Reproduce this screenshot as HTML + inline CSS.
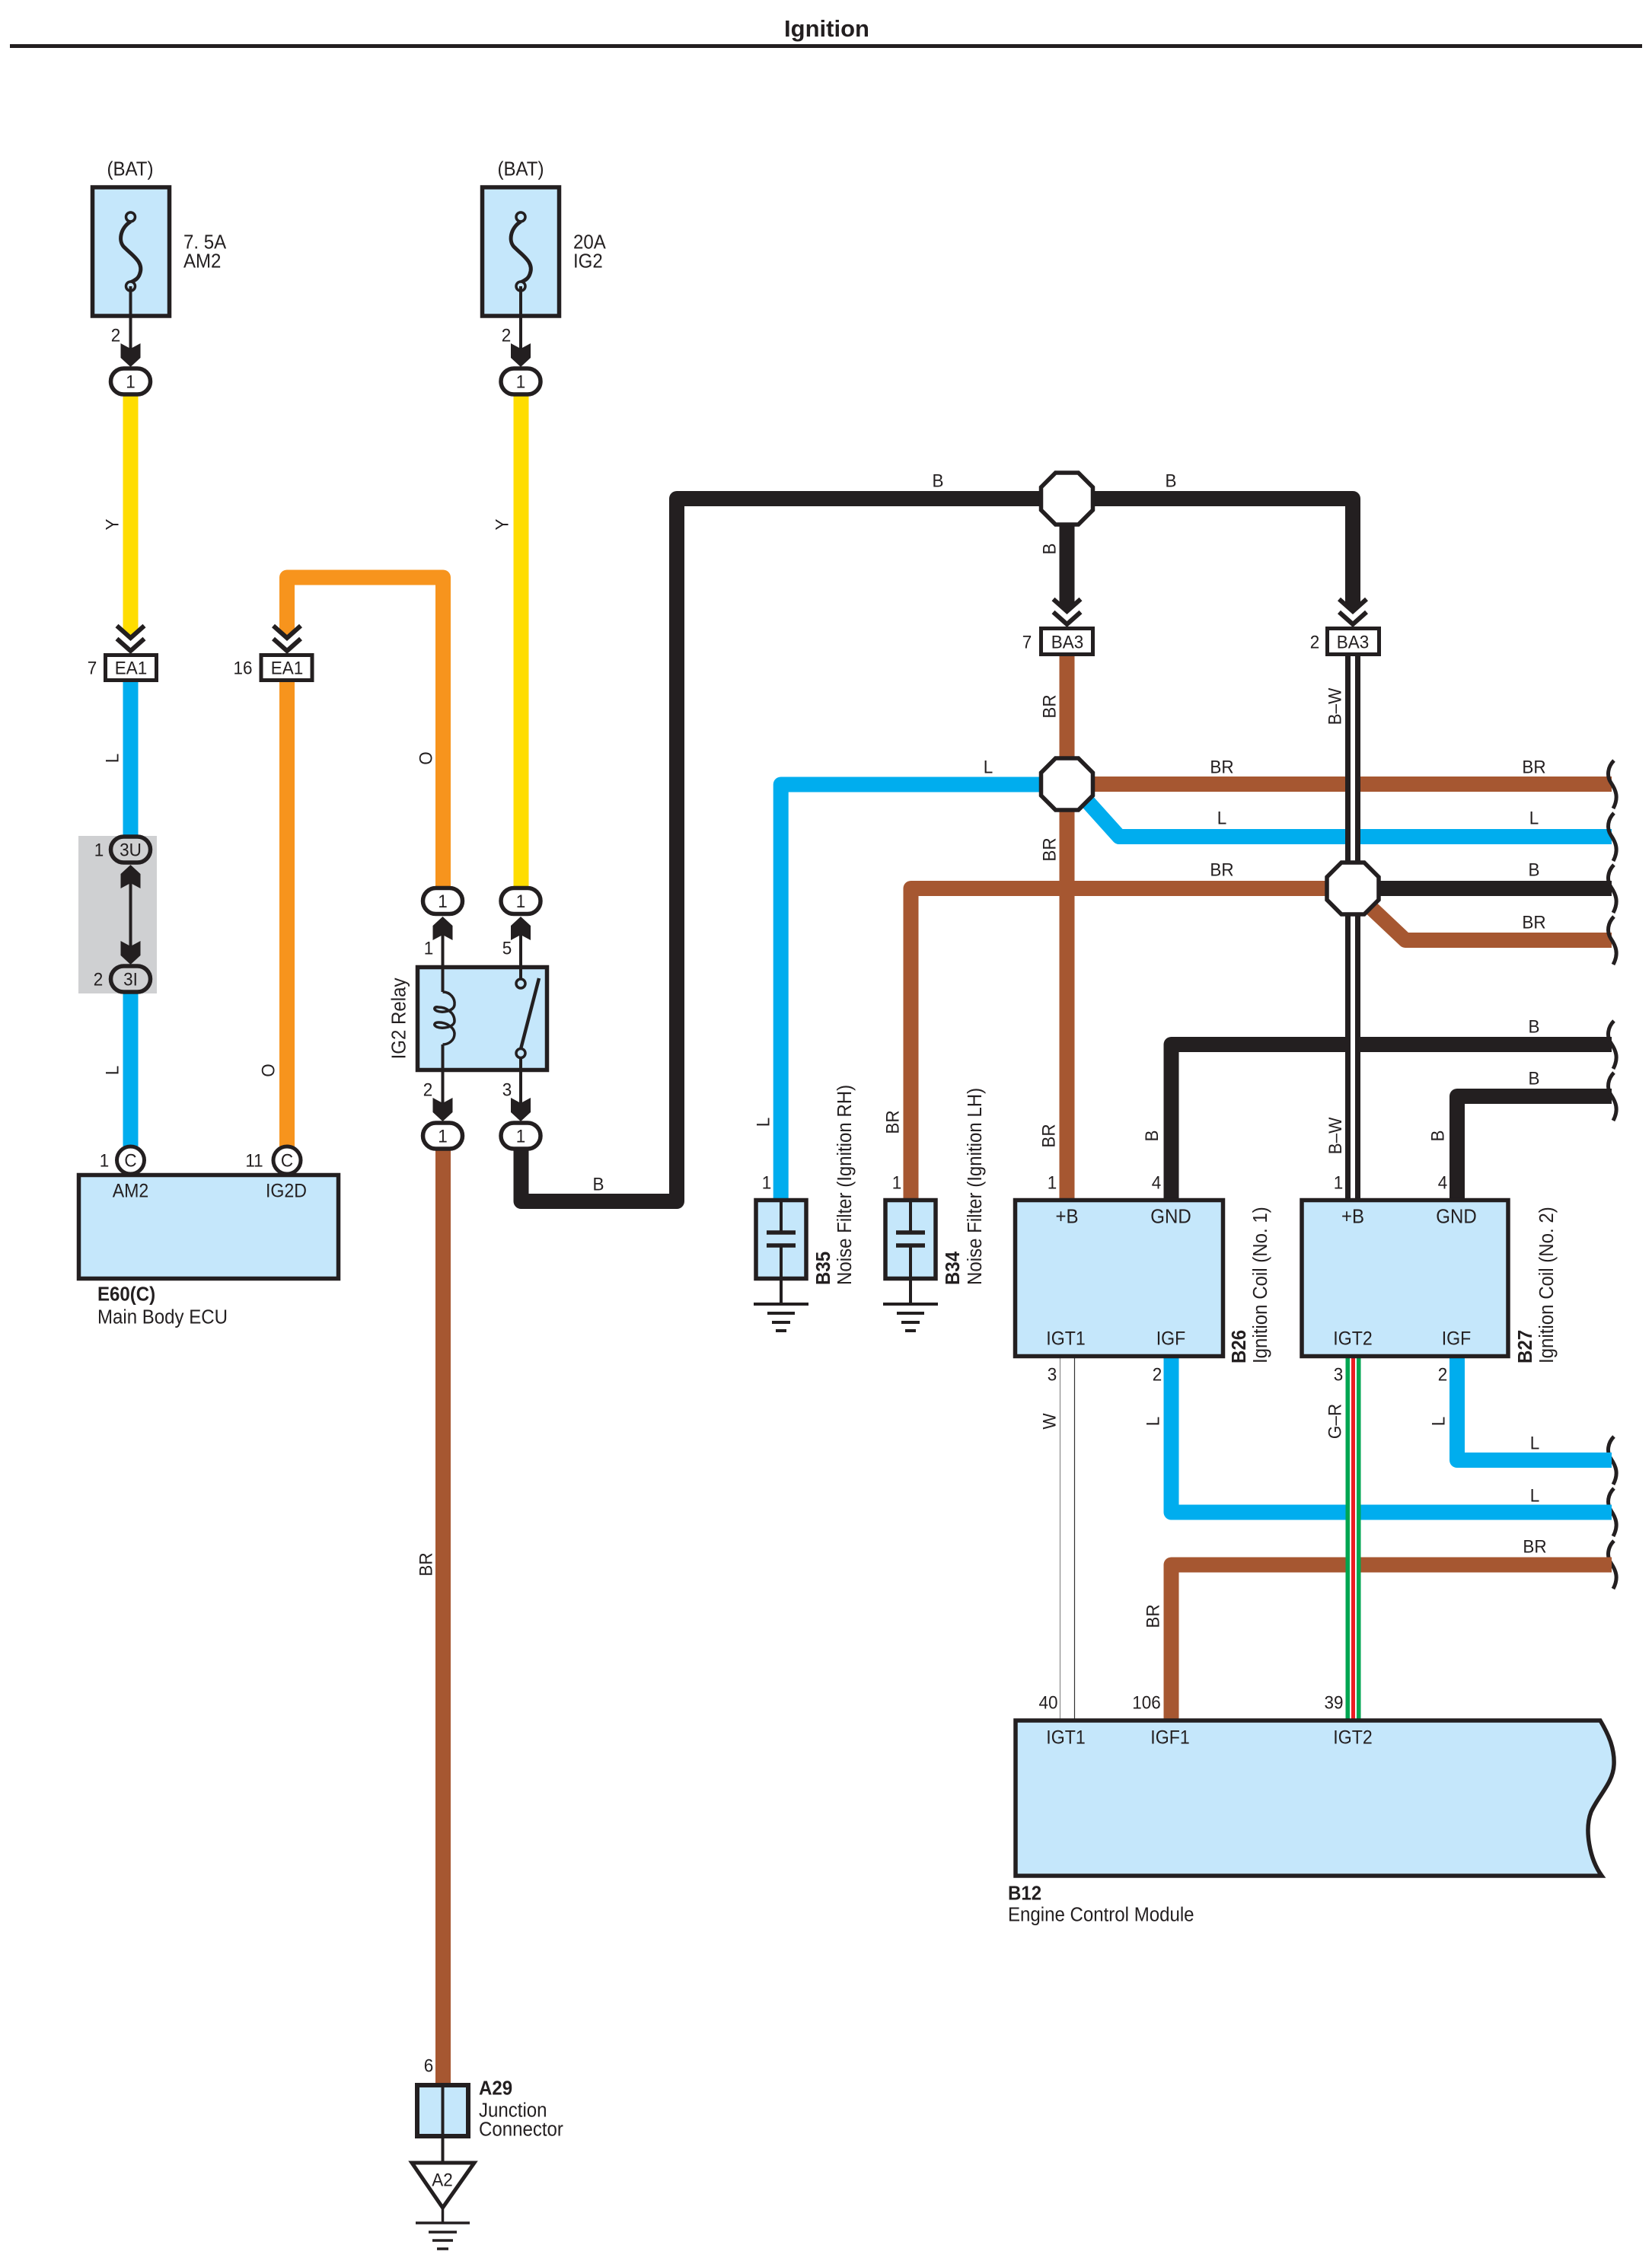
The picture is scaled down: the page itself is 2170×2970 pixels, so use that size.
<!DOCTYPE html>
<html><head><meta charset="utf-8"><title>Ignition</title>
<style>
html,body{margin:0;padding:0;background:#fff}
svg{display:block}
text{font-family:"Liberation Sans",sans-serif;font-size:24.3px;fill:#231F20;text-anchor:middle;transform-box:fill-box;transform-origin:center;transform:scaleX(.925) translateY(.7px)}
.s{text-anchor:start;font-size:26px;transform-origin:left center}
.b{font-weight:bold;text-anchor:start;font-size:26px;transform-origin:left center}
.n{font-size:26px}
.p{font-size:25px}
.w{fill:none;stroke-width:20;stroke-linejoin:round}
.k{stroke:#231F20}.br{stroke:#A65731}.l{stroke:#00ADEE}.o{stroke:#F7941D}.y{stroke:#FFDD00}
.box{fill:#C5E7FB;stroke:#231F20;stroke-width:5.5;stroke-linejoin:miter}
.t{stroke:#231F20;stroke-width:4;fill:none}
.g{stroke:#231F20;stroke-width:3.5;fill:none}
</style></head>
<body>
<svg xmlns="http://www.w3.org/2000/svg" width="2170" height="2970" viewBox="0 0 2170 2970">
<defs>
<g id="oval"><rect x="-26" y="-17" width="52" height="34" rx="17" fill="#fff" stroke="#231F20" stroke-width="5.5"/></g>
<g id="ovalg"><rect x="-26" y="-17" width="52" height="34" rx="17" fill="#CFD0D2" stroke="#231F20" stroke-width="5.5"/></g>
<polygon id="ad" fill="#231F20" points="-13,-31 0,-24 13,-31 13,-12 0,0 -13,-12"/>
<polygon id="au" fill="#231F20" points="-13,31 0,24 13,31 13,12 0,0 -13,12"/>
<g id="chev"><polygon fill="#fff" points="-18,-36 0,-20 18,-36 18,0 -18,0"/><path d="M-18,-36 L0,-20 L18,-36 M-18,-19 L0,-3 L18,-19" fill="none" stroke="#231F20" stroke-width="6"/></g>
<polygon id="oct" fill="#fff" stroke="#231F20" stroke-width="5.5" stroke-linejoin="miter" points="-15,-34 15,-34 34,-15 34,15 15,34 -15,34 -34,15 -34,-15"/>
<path id="sq" d="M1,0 C-7,8 -9,20 -3,29 C3,38 8,48 0,63" fill="none" stroke="#231F20" stroke-width="5"/>
<g id="gnd" fill="none" stroke="#231F20" stroke-width="4"><path d="M-36,0H36"/><path d="M-18,12H18"/><path d="M-12,24H12"/><path d="M-7,35H7"/></g>
<g id="fuse"><path d="M0,291 C-14,300 -17,318 -7,326 C3,336 18,345 12,360 C10,366 6,368 0,371" fill="none" stroke="#231F20" stroke-width="5"/><circle cx="0" cy="285" r="6" fill="#C5E7FB" stroke="#231F20" stroke-width="3.5"/><circle cx="0" cy="376" r="6" fill="#C5E7FB" stroke="#231F20" stroke-width="3.5"/></g>
</defs>

<!-- Title -->
<text x="1086" y="48" style="font-size:31px;font-weight:bold;transform:none">Ignition</text>
<rect x="13" y="58" width="2144" height="5" fill="#231F20"/>

<!-- Left column: fuses -->
<rect class="box" x="121.5" y="246" width="101" height="169"/>
<use href="#fuse" x="171.5"/>
<rect class="box" x="633.5" y="246" width="101" height="169"/>
<use href="#fuse" x="684"/>
<text x="171" y="230" class="n">(BAT)</text>
<text x="684" y="230" class="n">(BAT)</text>
<text x="241" y="326" class="s">7. 5A</text>
<text x="241" y="351" class="s">AM2</text>
<text x="753" y="326" class="s">20A</text>
<text x="753" y="351" class="s">IG2</text>
<path class="t" d="M171.5,376V470M684,376V470"/>
<text x="152" y="448">2</text>
<text x="665" y="448">2</text>
<use href="#ad" x="171.5" y="482"/>
<use href="#ad" x="684" y="482"/>

<!-- Yellow wires -->
<path class="w y" d="M171.5,515V840"/>
<path class="w y" d="M684.5,515V1170"/>
<use href="#oval" x="171.5" y="501"/><text x="171.5" y="509">1</text>
<use href="#oval" x="684" y="501"/><text x="684" y="509">1</text>
<g transform="translate(147 689) rotate(-90)"><text y="8">Y</text></g>
<g transform="translate(659 689) rotate(-90)"><text y="8">Y</text></g>

<!-- Orange loop -->
<path class="w o" d="M377,840V758.5H582V1170"/>
<path class="w o" d="M377,890V1510"/>
<g transform="translate(559 996) rotate(-90)"><text y="8">O</text></g>
<g transform="translate(352 1406) rotate(-90)"><text y="8">O</text></g>

<!-- Blue left -->
<path class="w l" d="M171.5,890V1510"/>
<g transform="translate(147 996) rotate(-90)"><text y="8">L</text></g>
<g transform="translate(147 1406) rotate(-90)"><text y="8">L</text></g>

<!-- EA1 -->
<use href="#chev" x="171.5" y="858"/>
<use href="#chev" x="377" y="858"/>
<rect x="138.5" y="860.5" width="67" height="33" fill="#fff" stroke="#231F20" stroke-width="5"/>
<rect x="343" y="860.5" width="67" height="33" fill="#fff" stroke="#231F20" stroke-width="5"/>
<text x="172" y="885">EA1</text>
<text x="377" y="885">EA1</text>
<text x="121" y="885">7</text>
<text x="319" y="885">16</text>

<!-- Grey 3U/3I -->
<rect x="103" y="1098" width="103" height="207" fill="#CFD0D2"/>
<path class="t" d="M171.5,1145V1258"/>
<use href="#au" x="171.5" y="1136"/>
<use href="#ad" x="171.5" y="1267"/>
<use href="#ovalg" x="171.5" y="1116"/><text x="171.5" y="1124">3U</text>
<use href="#ovalg" x="171.5" y="1286"/><text x="171.5" y="1294">3I</text>
<text x="130" y="1124">1</text>
<text x="129" y="1294">2</text>

<!-- ECU -->
<rect class="box" x="103.5" y="1543.5" width="341" height="136"/>
<circle cx="171.5" cy="1524" r="18" fill="#fff" stroke="#231F20" stroke-width="5"/>
<circle cx="377" cy="1524" r="18" fill="#fff" stroke="#231F20" stroke-width="5"/>
<text x="171.5" y="1532">C</text>
<text x="377" y="1532">C</text>
<text x="137" y="1532">1</text>
<text x="334" y="1532">11</text>
<text x="171.5" y="1572" class="p">AM2</text>
<text x="376" y="1572" class="p">IG2D</text>
<text x="128" y="1708" class="b">E60(C)</text>
<text x="128" y="1738" class="s">Main Body ECU</text>

<!-- Relay -->
<use href="#oval" x="581.5" y="1183.5"/><text x="581.5" y="1191.5">1</text>
<use href="#oval" x="684" y="1183.5"/><text x="684" y="1191.5">1</text>
<use href="#au" x="581.5" y="1204"/>
<use href="#au" x="684" y="1204"/>
<text x="563" y="1253">1</text>
<text x="666" y="1253">5</text>
<rect class="box" x="548.5" y="1270.5" width="170" height="135"/>
<path class="t" d="M581.5,1220V1303M581.5,1372V1460M684,1220V1286M684,1390V1460"/>
<path d="M581.5,1303 C592,1303 598,1312 597,1320 C596,1328 582,1331 574,1328 C569,1326 570,1322 576,1323 C586,1323 597,1330 597,1341 C597,1349 582,1352 574,1349 C569,1347 570,1343 576,1343 C587,1343 597,1350 597,1358 C597,1366 590,1372 581.5,1372" fill="none" stroke="#231F20" stroke-width="3.5"/>
<circle cx="684" cy="1292" r="6" fill="#C5E7FB" stroke="#231F20" stroke-width="3.5"/>
<circle cx="684" cy="1383.5" r="6" fill="#C5E7FB" stroke="#231F20" stroke-width="3.5"/>
<path d="M684,1378L708,1285" stroke="#231F20" stroke-width="4.5" fill="none"/>
<g transform="translate(524 1338) rotate(-90)"><text y="8" class="n">IG2 Relay</text></g>
<text x="562" y="1439">2</text>
<text x="666" y="1439">3</text>
<use href="#ad" x="581.5" y="1473"/>
<use href="#ad" x="684" y="1473"/>

<!-- Brown to junction -->
<path class="w br" d="M582,1505V2740"/>
<use href="#oval" x="581.5" y="1492"/><text x="581.5" y="1500">1</text>
<g transform="translate(559 2055) rotate(-90)"><text y="8">BR</text></g>
<text x="563" y="2721">6</text>
<rect x="548" y="2739" width="67" height="67" fill="#C5E7FB" stroke="#231F20" stroke-width="6"/>
<path d="M581.5,2736V2840" stroke="#231F20" stroke-width="4" fill="none"/>
<text x="629" y="2751" class="b">A29</text>
<text x="629" y="2780" class="s">Junction</text>
<text x="629" y="2805" class="s">Connector</text>
<polygon points="541,2841 623,2841 581.5,2900" fill="#fff" stroke="#231F20" stroke-width="5"/>
<text x="581" y="2871">A2</text>
<path d="M581.5,2900V2920M546,2920H617M563,2932H600M568,2943H595M574,2954H589" stroke="#231F20" stroke-width="3.5" fill="none"/>

<!-- Black main -->
<path class="w k" d="M684.5,1505V1578H889V655H1401V655"/>
<path class="w k" d="M1401,655H1777V805"/>
<path class="w k" d="M1401.5,680V805"/>
<use href="#oval" x="684" y="1492"/><text x="684" y="1500">1</text>
<text x="786" y="1563">B</text>
<text x="1232" y="639">B</text>
<text x="1538" y="639">B</text>
<g transform="translate(1378 721) rotate(-90)"><text y="8">B</text></g>

<!-- Horizontal wires -->
<path class="w l" d="M1401,1030.5H1025.7V1574"/>
<path class="w br" d="M1401.5,1030H2117"/>
<path class="w l" d="M1425,1049L1470,1099H2117"/>
<path class="w br" d="M1401.5,860V1574"/>
<path class="w br" d="M1777,1167H1196.5V1574"/>
<path class="w k" d="M1777,1167H2117"/>
<path class="w br" d="M1793,1185L1846,1235H2117"/>
<path class="w k" d="M2117,1372H1538.5V1574"/>
<path class="w k" d="M2117,1440H1914V1574"/>

<!-- B-W wire -->
<path d="M1777,860V1574" stroke="#231F20" stroke-width="20" fill="none"/>
<path d="M1777,860V1574" stroke="#fff" stroke-width="6" fill="none"/>

<!-- Octagons -->
<use href="#oct" x="1401.5" y="655"/>
<use href="#oct" x="1401.5" y="1030"/>
<use href="#oct" x="1777" y="1167"/>

<!-- BA3 -->
<use href="#chev" x="1401.5" y="823"/>
<use href="#chev" x="1777" y="823"/>
<rect x="1367.5" y="825.5" width="68" height="34" fill="#fff" stroke="#231F20" stroke-width="5"/>
<rect x="1743.5" y="825.5" width="68" height="34" fill="#fff" stroke="#231F20" stroke-width="5"/>
<text x="1402" y="851">BA3</text>
<text x="1777" y="851">BA3</text>
<text x="1349" y="851">7</text>
<text x="1727" y="851">2</text>

<!-- Labels on wires -->
<g transform="translate(1378 928) rotate(-90)"><text y="8">BR</text></g>
<g transform="translate(1378 1116) rotate(-90)"><text y="8">BR</text></g>
<g transform="translate(1753 928) rotate(-90)"><text y="8">B–W</text></g>
<text x="1298" y="1015">L</text>
<text x="1605" y="1015">BR</text>
<text x="2015" y="1015">BR</text>
<text x="1605" y="1082">L</text>
<text x="2015" y="1082">L</text>
<text x="1605" y="1150">BR</text>
<text x="2015" y="1150">B</text>
<text x="2015" y="1219">BR</text>
<text x="2015" y="1356">B</text>
<text x="2015" y="1424">B</text>

<!-- Squiggles -->
<use href="#sq" x="2119" y="999"/>
<use href="#sq" x="2119" y="1068"/>
<use href="#sq" x="2119" y="1136"/>
<use href="#sq" x="2119" y="1204"/>
<use href="#sq" x="2119" y="1341"/>
<use href="#sq" x="2119" y="1409"/>
<use href="#sq" x="2119" y="1887"/>
<use href="#sq" x="2119" y="1955"/>
<use href="#sq" x="2119" y="2024"/>

<!-- Noise filters -->
<rect class="box" x="993" y="1576.5" width="66" height="103"/>
<rect class="box" x="1163" y="1576.5" width="66" height="103"/>
<path class="t" d="M1026,1574V1619M1026,1636V1713M1196,1574V1619M1196,1636V1713"/>
<path d="M1007,1619H1045M1007,1636H1045M1177,1619H1215M1177,1636H1215" stroke="#231F20" stroke-width="5.5" fill="none"/>
<use href="#gnd" x="1026" y="1713"/>
<use href="#gnd" x="1196" y="1713"/>
<g transform="translate(1002 1474) rotate(-90)"><text y="8">L</text></g>
<g transform="translate(1172 1474) rotate(-90)"><text y="8">BR</text></g>
<text x="1007" y="1561">1</text>
<text x="1178" y="1561">1</text>
<g transform="translate(1081 1688) rotate(-90)"><text y="8.5" class="b">B35</text></g>
<g transform="translate(1109 1688) rotate(-90)"><text y="8.5" class="s">Noise Filter (Ignition RH)</text></g>
<g transform="translate(1251 1688) rotate(-90)"><text y="8.5" class="b">B34</text></g>
<g transform="translate(1280 1688) rotate(-90)"><text y="8.5" class="s">Noise Filter (Ignition LH)</text></g>

<!-- Lower wires -->
<path class="w l" d="M1538.5,1784V1986.5H2117"/>
<path class="w l" d="M1914,1784V1918H2117"/>
<path class="w br" d="M1538.5,2258V2055.5H2117"/>
<!-- W wire -->
<path d="M1392.5,1784V2258" stroke="#8a8a8a" stroke-width="1.2" fill="none"/>
<path d="M1411.5,1784V2258" stroke="#333" stroke-width="1.2" fill="none"/>
<!-- G-R wire -->
<rect x="1767.5" y="1784" width="20" height="474" fill="#00A651"/>
<rect x="1773" y="1784" width="9" height="474" fill="#fff"/>
<rect x="1775" y="1784" width="5" height="474" fill="#ED1C24"/>

<!-- Coils -->
<rect class="box" x="1333.5" y="1576.5" width="273" height="205"/>
<rect class="box" x="1710" y="1576.5" width="271" height="205"/>
<text x="1401.5" y="1606" class="n">+B</text>
<text x="1538" y="1606" class="n">GND</text>
<text x="1400" y="1766" class="p">IGT1</text>
<text x="1538" y="1766" class="p">IGF</text>
<text x="1777" y="1606" class="n">+B</text>
<text x="1913" y="1606" class="n">GND</text>
<text x="1777" y="1766" class="p">IGT2</text>
<text x="1913" y="1766" class="p">IGF</text>
<g transform="translate(1377 1492) rotate(-90)"><text y="8">BR</text></g>
<g transform="translate(1512.5 1492) rotate(-90)"><text y="8">B</text></g>
<g transform="translate(1753.5 1492) rotate(-90)"><text y="8">B–W</text></g>
<g transform="translate(1888 1492) rotate(-90)"><text y="8">B</text></g>
<text x="1382" y="1561">1</text>
<text x="1519" y="1561">4</text>
<text x="1758" y="1561">1</text>
<text x="1895" y="1561">4</text>
<g transform="translate(1627 1791) rotate(-90)"><text y="8.5" class="b">B26</text></g>
<g transform="translate(1655 1791) rotate(-90)"><text y="8.5" class="s">Ignition Coil (No. 1)</text></g>
<g transform="translate(2003 1791) rotate(-90)"><text y="8.5" class="b">B27</text></g>
<g transform="translate(2031 1791) rotate(-90)"><text y="8.5" class="s">Ignition Coil (No. 2)</text></g>
<text x="1382" y="1813">3</text>
<text x="1520" y="1813">2</text>
<text x="1758" y="1813">3</text>
<text x="1895" y="1813">2</text>
<g transform="translate(1378 1867) rotate(-90)"><text y="8">W</text></g>
<g transform="translate(1514 1867) rotate(-90)"><text y="8">L</text></g>
<g transform="translate(1753 1867) rotate(-90)"><text y="8">G–R</text></g>
<g transform="translate(1889 1867) rotate(-90)"><text y="8">L</text></g>
<text x="2016" y="1903">L</text>
<text x="2016" y="1972">L</text>
<text x="2016" y="2039">BR</text>
<g transform="translate(1514 2123) rotate(-90)"><text y="8">BR</text></g>
<text x="1377" y="2244">40</text>
<text x="1506" y="2244">106</text>
<text x="1752" y="2244">39</text>

<!-- ECM -->
<path d="M1334,2260 H2102 C2114,2280 2121,2298 2120,2318 C2119,2342 2100,2358 2090,2380 C2081,2404 2088,2442 2104,2464 H1334 Z" fill="#C5E7FB" stroke="#231F20" stroke-width="5.5" stroke-linejoin="miter"/>
<text x="1400" y="2290" class="p">IGT1</text>
<text x="1537" y="2290" class="p">IGF1</text>
<text x="1777" y="2290" class="p">IGT2</text>
<text x="1324" y="2495" class="b">B12</text>
<text x="1324" y="2523" class="s">Engine Control Module</text>
</svg>
</body></html>
